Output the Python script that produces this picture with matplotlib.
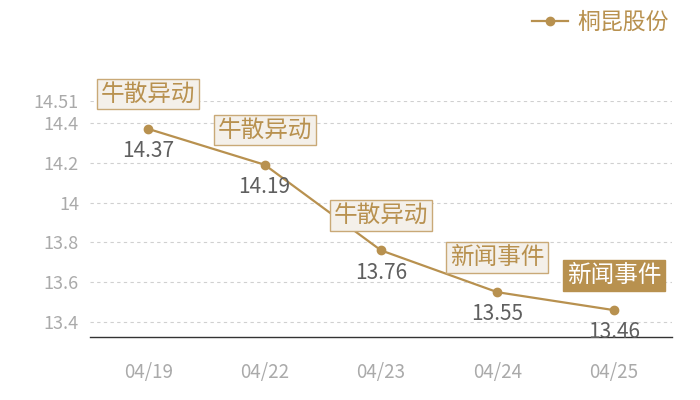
import numpy as np
import matplotlib.pyplot as plt

plt.rcParams['font.family'] = ['Noto Sans CJK SC', 'DejaVu Sans']

dates = ['04/19', '04/22', '04/23', '04/24', '04/25']
prices = [14.37, 14.19, 13.76, 13.55, 13.46]
events = ['牛散异动', '牛散异动', '牛散异动', '新闻事件', '新闻事件']
yticks = [13.4, 13.6, 13.8, 14.0, 14.2, 14.4, 14.51]
ytick_labels = ['13.4', '13.6', '13.8', '14', '14.2', '14.4', '14.51']
series_name = '桐昆股份'

gold = '#b8914f'

fig = plt.figure(figsize=(7, 4), dpi=100)
ax = fig.add_axes([0.1286, 0.1575, 0.8314, 0.59])

x = np.arange(len(dates))
ax.plot(x, prices, color=gold, lw=1.6, marker='o', ms=6, label=series_name, zorder=3)

for i, (p, ev) in enumerate(zip(prices, events)):
    # value below the point
    ax.annotate(f'{p:.2f}', (i, p), xytext=(0, -16), textcoords='offset points',
                ha='center', va='center', fontsize=15, color='#5f5f5f', zorder=4)
    # event tag above the point
    last = i == len(prices) - 1
    ax.annotate(ev, (i, p), xytext=(0, 25), textcoords='offset points',
                ha='center', va='center', fontsize=17,
                color='white' if last else gold,
                bbox=dict(boxstyle='square,pad=0.16',
                          fc=gold if last else '#f4f0ea',
                          ec=gold if last else '#c9a977', lw=1),
                zorder=5)

ax.set_xlim(-0.5, len(dates) - 0.5)
ax.set_ylim(13.325, 14.51)
ax.set_xticks(x)
ax.set_xticklabels(dates, fontsize=13.5, color='#aaaaaa')
ax.set_yticks(yticks)
ax.set_yticklabels(ytick_labels, fontsize=13, color='#aaaaaa')
ax.tick_params(length=0, pad=8)
ax.tick_params(axis='x', pad=18)
ax.grid(axis='y', ls=(0, (3, 3)), color='#d0d0d0', lw=0.8)
for s in ['top', 'right', 'left']:
    ax.spines[s].set_visible(False)
ax.spines['bottom'].set_color('#333333')
ax.spines['bottom'].set_linewidth(1)

leg = fig.legend(loc='upper right', bbox_to_anchor=(0.985, 1.025), frameon=False,
                 fontsize=16.5, handlelength=1.6, handletextpad=0.4)
for t in leg.get_texts():
    t.set_color(gold)

fig.savefig('out.png')
